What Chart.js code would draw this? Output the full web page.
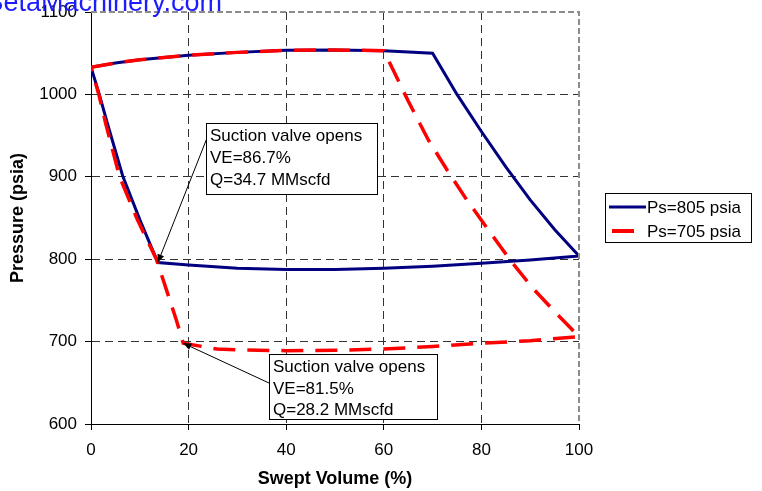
<!DOCTYPE html>
<html>
<head>
<meta charset="utf-8">
<script src="https://cdn.jsdelivr.net/npm/chart.js@4.4.1/dist/chart.umd.min.js"></script>
<style>
  html, body { margin: 0; padding: 0; background: #fff; }
  #wrap { position: relative; width: 762px; height: 491px; }
</style>
</head>
<body>
<div id="wrap"><canvas id="pv"></canvas></div>
<script>
// Ps=805 psia loop: discharge line, expansion, suction line, compression
const blueVol  = [0, 5, 10, 20, 30, 40, 50, 60, 70, 75, 80, 85, 90, 95, 100, 90, 80, 70, 60, 50, 40, 30, 20, 13.7, 10, 6.5, 3.35, 1.7, 0];
const bluePres = [1033, 1038, 1042, 1047.5, 1051, 1053.5, 1054, 1053, 1050, 1000, 955, 912, 872, 836, 804, 799, 795, 791.5, 789, 787.5, 787.5, 789, 793, 796, 848, 901, 965, 1000, 1033];

// Ps=705 psia loop
const redVol  = [0, 5, 10, 20, 30, 40, 50, 60, 65, 69.1, 73, 77, 81.5, 85.9, 90.5, 95.4, 100, 90, 80, 70, 60, 50, 40, 30, 25.8, 18.9, 17.5, 13.4, 9.5, 5.8, 3, 1.6, 0];
const redPres = [1033, 1038, 1042, 1047.5, 1051, 1053.5, 1054, 1053, 992, 945, 908, 872, 835, 799, 765, 734, 706, 701, 698, 694, 691, 689.5, 689, 690, 691, 698, 726, 800, 848, 901, 965, 1000, 1033];

const seriesNames = ["Ps=805 psia", "Ps=705 psia"];
const xTicks = [0, 20, 40, 60, 80, 100];
const yTicks = [600, 700, 800, 900, 1000, 1100];
const noteA = ["Suction valve opens", "VE=86.7%", "Q=34.7 MMscfd"];
const noteB = ["Suction valve opens", "VE=81.5%", "Q=28.2 MMscfd"];
const noteAIdx = 23; // blue point where suction valve opens
const noteBIdx = 25; // red point where suction valve opens

const BLUE = "#000080";
const RED = "#ff0000";
const FONT = "'Liberation Sans', Arial, sans-serif";

Chart.defaults.font.family = FONT;
Chart.defaults.color = "#000";

function pts(xs, ys) {
  return xs.map((v, i) => ({ x: v, y: ys[i] }));
}

function arrow(ctx, x1, y1, x2, y2) {
  ctx.beginPath();
  ctx.moveTo(x1, y1);
  ctx.lineTo(x2, y2);
  ctx.stroke();
  const ang = Math.atan2(y2 - y1, x2 - x1);
  const len = 8, w = 3.5;
  ctx.beginPath();
  ctx.moveTo(x2, y2);
  ctx.lineTo(x2 - len * Math.cos(ang) + w * Math.sin(ang), y2 - len * Math.sin(ang) - w * Math.cos(ang));
  ctx.lineTo(x2 - len * Math.cos(ang) - w * Math.sin(ang), y2 - len * Math.sin(ang) + w * Math.cos(ang));
  ctx.closePath();
  ctx.fill();
}

function note(ctx, lines, box, from, tip, baselines) {
  ctx.save();
  ctx.strokeStyle = "#000";
  ctx.fillStyle = "#000";
  ctx.lineWidth = 1;
  arrow(ctx, from[0], from[1], tip[0], tip[1]);
  ctx.fillStyle = "#fff";
  ctx.fillRect(box[0], box[1], box[2], box[3]);
  ctx.strokeRect(box[0] + 0.5, box[1] + 0.5, box[2], box[3]);
  ctx.fillStyle = "#000";
  ctx.font = "17px " + FONT;
  ctx.textBaseline = "alphabetic";
  lines.forEach((t, i) => ctx.fillText(t, box[0] + 4, box[1] + baselines[i]));
  ctx.restore();
}

const decor = {
  id: "decor",
  beforeDraw(chart) {
    const ctx = chart.ctx;
    ctx.save();
    ctx.fillStyle = "#fff";
    ctx.fillRect(0, 0, chart.width, chart.height);
    ctx.restore();
  },
  afterDatasetsDraw(chart) {
    const { ctx, chartArea: a, scales: { x, y } } = chart;

    // dashed grey frame on top and right
    ctx.save();
    ctx.strokeStyle = "#8c8c8c";
    ctx.lineWidth = 2;
    ctx.setLineDash([6, 3]);
    ctx.beginPath();
    ctx.moveTo(a.left, a.top);
    ctx.lineTo(a.right, a.top);
    ctx.lineTo(a.right, a.bottom);
    ctx.stroke();
    ctx.restore();

    // callouts
    const tA = [x.getPixelForValue(blueVol[noteAIdx]), y.getPixelForValue(bluePres[noteAIdx])];
    const tB = [x.getPixelForValue(redVol[noteBIdx]), y.getPixelForValue(redPres[noteBIdx])];
    note(ctx, noteA, [206, 123, 171, 71], [207, 138], tA, [18, 40, 62]);
    note(ctx, noteB, [269, 354, 168, 65], [269, 383], tB, [18, 40, 61]);

    // legend
    ctx.save();
    ctx.fillStyle = "#fff";
    ctx.fillRect(605, 193, 146, 49);
    ctx.strokeStyle = "#000";
    ctx.lineWidth = 1;
    ctx.strokeRect(605.5, 193.5, 146, 49);
    ctx.lineWidth = 3;
    ctx.strokeStyle = BLUE;
    ctx.beginPath(); ctx.moveTo(609, 207); ctx.lineTo(646, 207); ctx.stroke();
    ctx.lineWidth = 4;
    ctx.strokeStyle = RED;
    ctx.beginPath(); ctx.moveTo(612, 231); ctx.lineTo(634, 231); ctx.stroke();
    ctx.fillStyle = "#000";
    ctx.font = "17px " + FONT;
    ctx.textBaseline = "middle";
    ctx.fillText(seriesNames[0], 647, 208);
    ctx.fillText(seriesNames[1], 647, 232);
    ctx.restore();

    // watermark, cut off at the top-left corner
    ctx.save();
    ctx.fillStyle = "#1c1cff";
    ctx.font = "27px " + FONT;
    ctx.textBaseline = "alphabetic";
    const wm = "BetaMachinery.com";
    ctx.fillText(wm, 222 - ctx.measureText(wm).width, 11);
    ctx.restore();
  }
};

const gridColor = (c) => {
  const v = c.tick ? c.tick.value : null;
  return (v === 600 || v === 1100 || v === 0 || v === 100) ? "rgba(0,0,0,0)" : "#333";
};

new Chart(document.getElementById("pv"), {
  type: "scatter",
  data: {
    datasets: [
      {
        label: seriesNames[1],
        data: pts(redVol, redPres),
        showLine: true,
        borderColor: RED,
        borderWidth: 3.5,
        borderDash: [22, 12],
        pointRadius: 0,
        tension: 0,
        fill: false,
        order: 0
      },
      {
        label: seriesNames[0],
        data: pts(blueVol, bluePres),
        showLine: true,
        borderColor: BLUE,
        borderWidth: 3,
        pointRadius: 0,
        tension: 0,
        fill: false,
        order: 1
      }
    ]
  },
  options: {
    responsive: true,
    maintainAspectRatio: false,
    animation: false,
    layout: { padding: { top: 12, right: 183, left: 0, bottom: 0 } },
    plugins: { legend: { display: false }, tooltip: { enabled: false } },
    scales: {
      x: {
        type: "linear",
        min: 0, max: 100,
        afterBuildTicks: (s) => { s.ticks = xTicks.map((v) => ({ value: v })); },
        afterFit: (s) => { s.height = 67; s.paddingLeft = 0; s.paddingRight = 0; },
        ticks: { font: { size: 17 }, padding: 10, maxRotation: 0, callback: (v) => String(v) },
        grid: { color: gridColor, tickColor: "#000", tickLength: 6, tickBorderDash: [], lineWidth: 1 },
        border: { display: true, color: "#000", width: 1, dash: [8, 5] },
        title: { display: true, text: "Swept Volume (%)", font: { size: 18, weight: "bold" }, padding: { top: 0, bottom: 1 } }
      },
      y: {
        type: "linear",
        min: 600, max: 1100,
        afterBuildTicks: (s) => { s.ticks = yTicks.map((v) => ({ value: v })); },
        afterFit: (s) => { s.width = 91; s.paddingTop = 0; s.paddingBottom = 0; },
        ticks: { font: { size: 17 }, padding: 8, callback: (v) => String(v) },
        grid: { color: gridColor, tickColor: "#000", tickLength: 6, tickBorderDash: [], lineWidth: 1 },
        border: { display: true, color: "#000", width: 1, dash: [8, 5] },
        title: { display: true, text: "Pressure (psia)", font: { size: 18, weight: "bold" }, padding: { top: 7, bottom: 0 } }
      }
    }
  },
  plugins: [decor]
});
</script>
</body>
</html>
